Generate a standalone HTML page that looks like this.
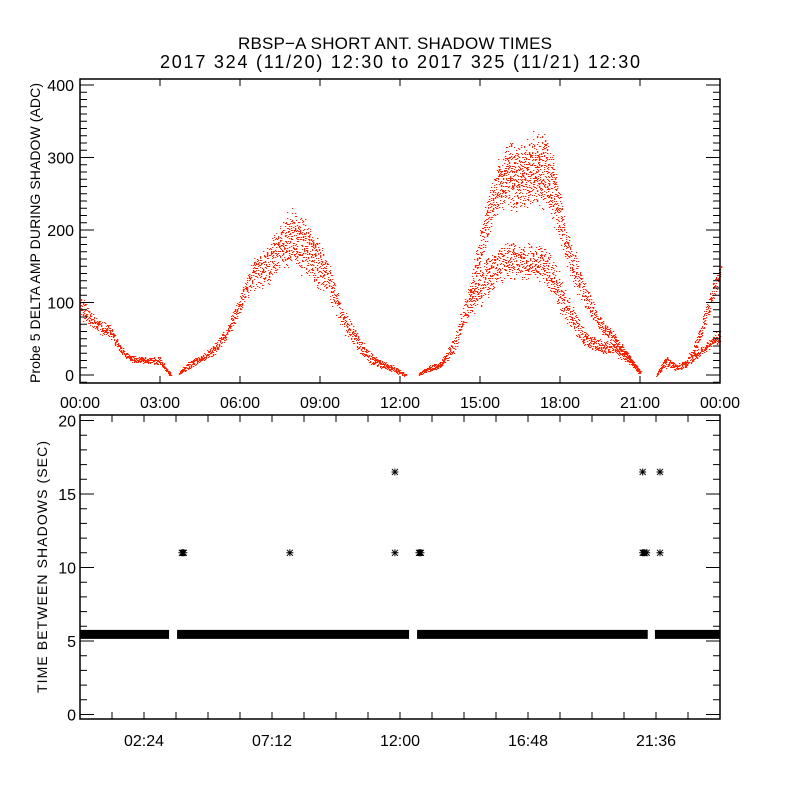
<!DOCTYPE html>
<html><head><meta charset="utf-8">
<style>
html,body{margin:0;padding:0;background:#fff;}
svg{display:block;}
text{font-family:"Liberation Sans",sans-serif;fill:#000;}
</style></head>
<body>
<svg id="chart" width="800" height="800" viewBox="0 0 800 800" xmlns="http://www.w3.org/2000/svg">
<rect width="800" height="800" fill="#fff"/>
<text x="395" y="49" font-size="17" textLength="314" lengthAdjust="spacing" text-anchor="middle">RBSP−A SHORT ANT. SHADOW TIMES</text>
<text x="400" y="68" font-size="18" textLength="480" lengthAdjust="spacing" text-anchor="middle">2017 324 (11/20) 12:30 to 2017 325 (11/21) 12:30</text>
<g id="topPanel"></g>
<g id="botPanel"></g>
<text transform="translate(40,233) rotate(-90)" font-size="14" textLength="300" lengthAdjust="spacing" text-anchor="middle">Probe 5 DELTA AMP DURING SHADOW (ADC)</text>
<text transform="translate(47,567) rotate(-90)" font-size="14" textLength="252" lengthAdjust="spacing" text-anchor="middle">TIME BETWEEN SHADOWS (SEC)</text>
</svg>
<script>
const NS="http://www.w3.org/2000/svg";
// ---- top panel data: strands of scatter (hours, center ADC, spread ADC) ----
const strandA_t=[0,0.3,0.75,1.1,1.5,1.9,2.5,3.0,3.2,3.4];
const strandA_c=[95,80,65,62,35,22,20,20,8,0];
const strandA_w=[20,14,10,10,6,5,5,6,3,2];
const strandB_t=[3.7,4.0,4.5,5.0,5.5,6.0,6.5,7.0,7.5,8.0,8.5,9.0,9.3,9.8,10.3,10.8,11.3,11.8,12.2];
const strandB_c=[2,12,22,35,58,100,140,150,180,190,175,150,135,80,50,25,15,8,0];
const strandB_w=[2,6,6,8,10,15,25,30,35,45,45,35,28,20,15,10,6,5,2];
const strandC_t=[12.7,13.0,13.5,14.0,14.5,14.8,15.3,16.0,16.5,17.0,17.5,18.0,18.5,19.0,19.5,20.0,20.5,21.0];
const strandC_c=[2,8,15,40,95,110,140,160,155,160,150,110,75,48,40,37,25,3];
const strandC_w=[2,5,6,12,25,28,32,28,25,28,28,28,18,12,10,10,8,3];
const strandU_t=[14.6,15.0,15.5,16.0,16.5,17.0,17.5,17.8,18.2,18.6,19.0,19.5,20.0,20.5,21.0];
const strandU_c=[110,175,250,280,270,285,280,245,185,140,105,70,52,27,3];
const strandU_w=[20,30,35,50,50,55,55,50,28,28,18,12,8,7,3];
const strandD_t=[21.6,21.8,22.0,22.3,22.7,23.0,23.3,23.7,24.0];
const strandD_c=[0,12,18,11,15,35,65,110,148];
const strandD_w=[2,5,9,6,6,6,14,16,14];
const strandE_t=[22.9,23.0,23.5,24.0];
const strandE_c=[20,25,40,55];
const strandE_w=[5,6,7,10];
// ---- bottom panel data ----
const bandStart=[0,3.64,12.64,21.56];
const bandEnd=[3.34,12.34,21.29,24];
const bandValue=5.45;
const starTimes=[3.82,7.87,11.81,11.81,12.71,21.1,21.1,21.75,21.75];
const starValues=[11,11,11,16.5,11,11,16.5,11,16.5];
const starBold=[1,0,0,0,1,2,0,0,0];
const topYTicks=[0,100,200,300,400];
const topXLabels=["00:00","03:00","06:00","09:00","12:00","15:00","18:00","21:00","00:00"];
const botYTicks=[0,5,10,15,20];
const botXLabels=["02:24","07:12","12:00","16:48","21:36"];

const X0=80,X1=720;
const xs=h=>X0+(X1-X0)*h/24;
const ty=v=>375-v*0.725;
const by=v=>714.5-v*14.7;

function el(tag,attrs,parent){const e=document.createElementNS(NS,tag);for(const k in attrs)e.setAttribute(k,attrs[k]);parent.appendChild(e);return e;}
const topG=document.getElementById('topPanel'), botG=document.getElementById('botPanel');

function interp(ts,vs,t){if(t<=ts[0])return vs[0];for(let i=1;i<ts.length;i++){if(t<=ts[i]){const f=(t-ts[i-1])/(ts[i]-ts[i-1]);return vs[i-1]+f*(vs[i]-vs[i-1]);}}return vs[vs.length-1];}
function hash(n){const s=Math.sin(n*12.9898+78.233)*43758.5453;return s-Math.floor(s);}
function strand(ts,cs,ws,name,seed){
  let d="";const x0=xs(ts[0]),x1=xs(ts[ts.length-1]);let k=seed;
  for(let x=x0;x<=x1;x+=0.5){
    const t=(x-X0)*24/(X1-X0);const c=interp(ts,cs,t),w=interp(ts,ws,t);
    const n=Math.max(3,Math.round(w/7));
    for(let j=0;j<n;j++){k++;const r=(hash(k)*0.7+hash(k*1.7+3)*0.3)*2-1;
      const v=c+r*w;const px=Math.round(x+hash(k*3.1)*0.8),py=Math.round(ty(v));
      d+="M"+px+" "+py+"h1.3v1h-1.3z";}
  }
  const p=el('path',{d:d,fill:"#ff2200"},topG);
  
  
}
strand(strandA_t,strandA_c,strandA_w,'scatter-pass-1',1);
strand(strandB_t,strandB_c,strandB_w,'scatter-pass-2',5000);
strand(strandC_t,strandC_c,strandC_w,'scatter-pass-3-lower',12000);
strand(strandU_t,strandU_c,strandU_w,'scatter-pass-3-upper',20000);
strand(strandD_t,strandD_c,strandD_w,'scatter-pass-4-upper',30000);
strand(strandE_t,strandE_c,strandE_w,'scatter-pass-4-lower',40000);

// top axes
let f=el('rect',{x:80,y:79,width:640,height:304,fill:"none",stroke:"#000","stroke-width":1.5},topG);


let tk="";
for(let v=-10;v<=410;v+=10){const y=ty(v);if(y<79.5||y>382.5)continue;const L=(v%100===0)?14:7;tk+=`M80 ${y}h${L}M720 ${y}h${-L}`;}
for(let h=0;h<=24;h+=3){const x=xs(h);tk+=`M${x} 383v-7M${x} 79v7`;}
f=el('path',{d:tk,stroke:"#000","stroke-width":1,fill:"none"},topG);


topYTicks.forEach(v=>{const t=el('text',{x:74,y:ty(v)+6,"font-size":16,"text-anchor":"end"},topG);t.textContent=v;
 
 });
topXLabels.forEach((s,i)=>{const t=el('text',{x:xs(i*3),y:408,"font-size":16,"text-anchor":"middle"},topG);t.textContent=s;
 
 });

// bottom panel
for(let i=0;i<bandStart.length;i++){
  const r=el('rect',{x:xs(bandStart[i]),y:by(bandValue)-4.5,width:xs(bandEnd[i])-xs(bandStart[i]),height:9,fill:"#000"},botG);
  
  
}
function star(cx,cy){return `M${cx-3.5} ${cy}h7M${cx} ${cy-3.5}v7M${cx-3} ${cy-3}l6 6M${cx-3} ${cy+3}l6 -6`;}
for(let i=0;i<starTimes.length;i++){
  const cx=xs(starTimes[i]),cy=by(starValues[i]);let d=star(cx,cy);
  for(let b=1;b<=starBold[i];b++)d+=star(cx+b,cy)+star(cx+b*2,cy);
  const p=el('path',{d:d,stroke:"#000","stroke-width":1,fill:"none"},botG);
  
  
}
f=el('rect',{x:80,y:415,width:640,height:304,fill:"none",stroke:"#000","stroke-width":1.5},botG);


tk="";
for(let v=0;v<=20;v+=1){const y=by(v);const L=(v%5===0)?14:7;tk+=`M80 ${y}h${L}M720 ${y}h${-L}`;}
for(let h=0;h<=24.001;h+=1.2){const x=xs(h);tk+=`M${x} 719v-7M${x} 415v7`;}
f=el('path',{d:tk,stroke:"#000","stroke-width":1,fill:"none"},botG);


botYTicks.forEach(v=>{const t=el('text',{x:76,y:by(v)+6,"font-size":16,"text-anchor":"end"},botG);t.textContent=v;
 
 });
botXLabels.forEach((s,i)=>{const t=el('text',{x:xs(2.4+i*4.8),y:746,"font-size":16,"text-anchor":"middle"},botG);t.textContent=s;
 
 });
</script>
</body></html>
